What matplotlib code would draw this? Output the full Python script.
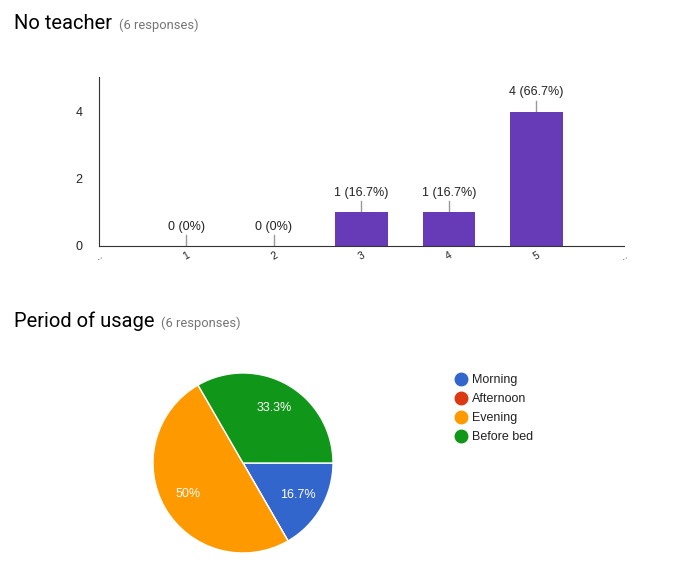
import matplotlib.pyplot as plt
import numpy as np

# data
scale_labels = ['1', '2', '3', '4', '5']
scale_counts = [0, 0, 1, 1, 4]
n_responses = 6

period_labels = ['Morning', 'Afternoon', 'Evening', 'Before bed']
period_counts = [1, 0, 3, 2]
period_colors = ['#3366cc', '#dc3912', '#ff9900', '#109618']

W, H = 691, 581
fig = plt.figure(figsize=(W / 100, H / 100), dpi=100)

def box(x0, y0, x1, y1):
    # pixel box (top-left origin) -> figure fraction
    return [x0 / W, 1 - y1 / H, (x1 - x0) / W, (y1 - y0) / H]

# titles
fig.text(14 / W, 1 - 29 / H, 'No teacher', family='Roboto', fontsize=14.5, color='black')
fig.text(119 / W, 1 - 29 / H, '(6 responses)', family='Roboto', fontsize=9.3, color='#757575')
fig.text(14 / W, 1 - 327 / H, 'Period of usage', family='Roboto', fontsize=14.5, color='black')
fig.text(161 / W, 1 - 327 / H, '(6 responses)', family='Roboto', fontsize=9.3, color='#757575')

# bar chart
ax = fig.add_axes(box(99, 77, 624, 246))
x = np.arange(1, len(scale_counts) + 1)
ax.bar(x, scale_counts, width=0.6, color='#673ab7', zorder=2)
ax.set_xlim(0, 6)
ax.set_ylim(0, 5.04)
for xi, c in zip(x, scale_counts):
    pct = c / n_responses * 100
    txt = '%d (%s%%)' % (c, ('%.1f' % pct).rstrip('0').rstrip('.'))
    ax.plot([xi, xi], [c, c + 0.33], color='#999999', lw=1, zorder=1)
    ax.text(xi, c + 0.4, txt, ha='center', va='bottom', family='Liberation Sans',
            fontsize=9, color='#222222')
ax.set_yticks([0, 2, 4])
ax.set_xticks([0] + list(x) + [6])
ax.set_xticklabels(['..'] + scale_labels + ['..'], rotation=30, fontsize=7.5,
                   family='Liberation Sans', color='#222222')
ax.tick_params(axis='y', length=0, pad=12, labelsize=9, labelcolor='#222222')
ax.tick_params(axis='x', length=0, pad=3)
for lbl in ax.get_yticklabels():
    lbl.set_family('Liberation Sans')
ax.spines['top'].set_visible(False)
ax.spines['right'].set_visible(False)
ax.spines['left'].set_color('#333333')
ax.spines['bottom'].set_color('#333333')

# pie chart
ax2 = fig.add_axes(box(153, 373, 333, 553))

def autopct(p):
    if p < 1:
        return ''
    return ('%.1f' % p).rstrip('0').rstrip('.') + '%'

ax2.pie(period_counts, colors=period_colors, startangle=0,
        counterclock=False, autopct=autopct, pctdistance=0.7,
        wedgeprops=dict(edgecolor='white', linewidth=1),
        textprops=dict(color='white', fontsize=9, family='Liberation Sans'))
ax2.set_xlim(-1, 1)
ax2.set_ylim(-1, 1)

# legend
for i, (lab, col) in enumerate(zip(period_labels, period_colors)):
    y = 1 - (379 + 19 * i) / H
    fig.text(472 / W, y, lab, va='center_baseline', fontsize=9,
             family='Liberation Sans', color='#222222')
    fig.lines.append(plt.Line2D([461 / W], [y], marker='o', ms=9, color=col,
                                transform=fig.transFigure, figure=fig))

fig.savefig('out.png', dpi=100)
